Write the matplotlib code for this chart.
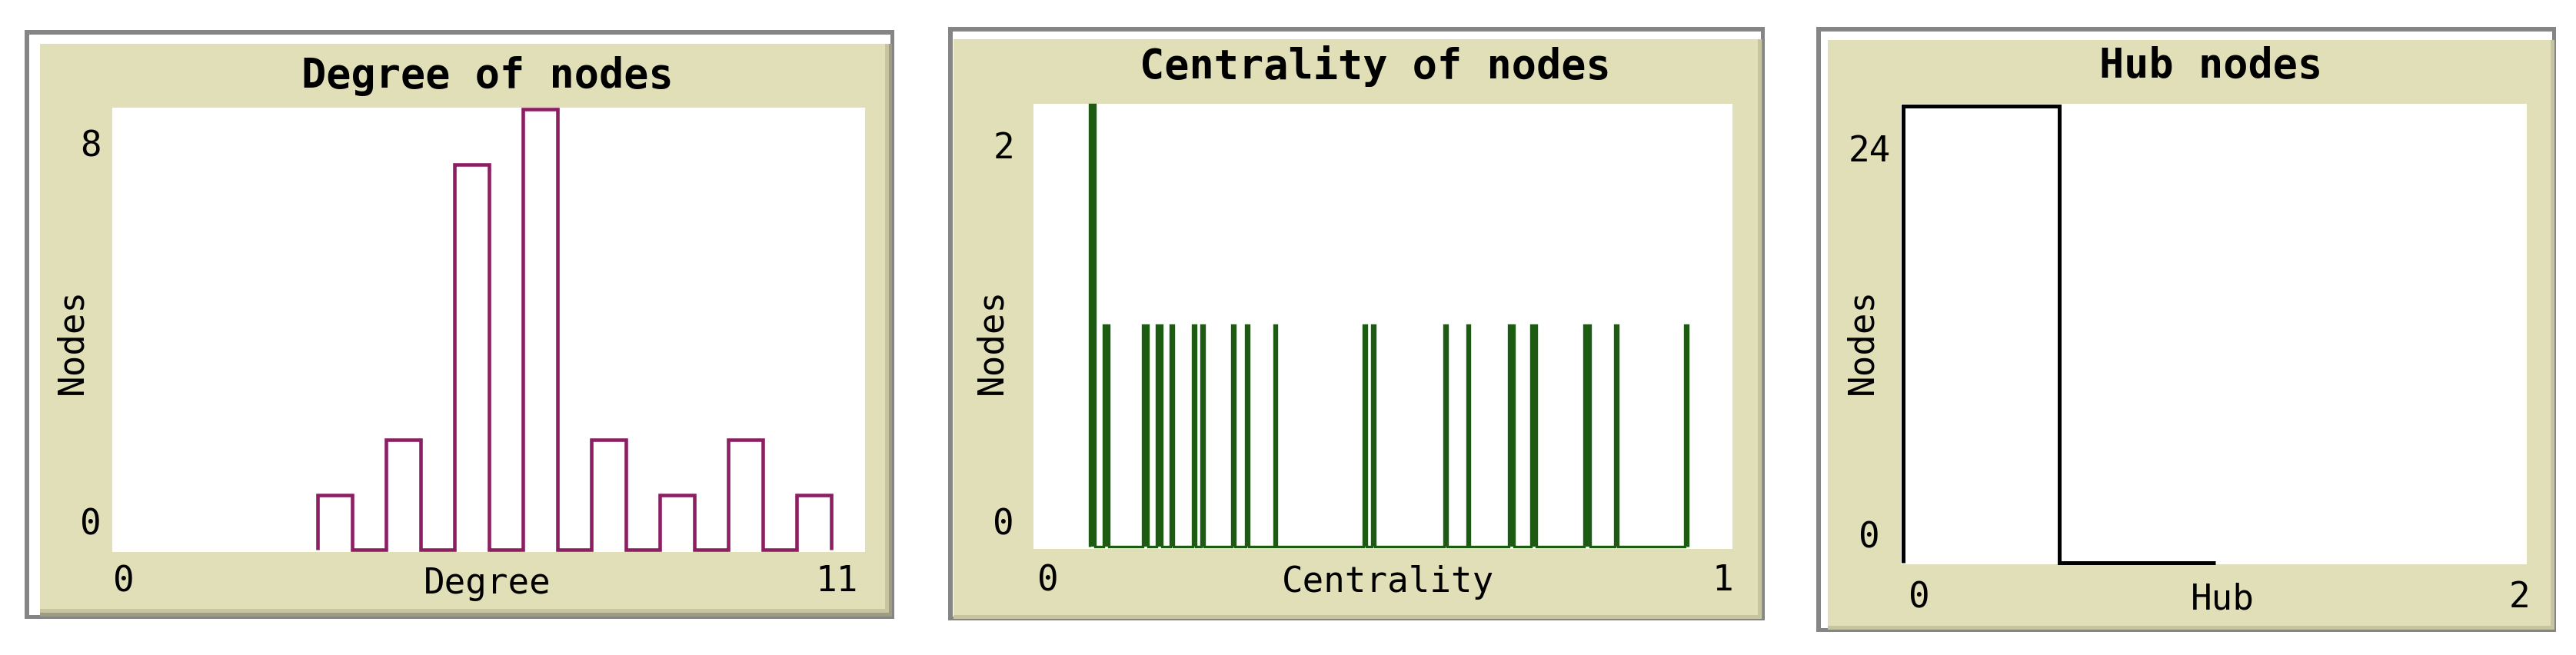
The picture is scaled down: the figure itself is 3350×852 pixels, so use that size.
import numpy as np
import matplotlib.pyplot as plt
from matplotlib.patches import Rectangle

# data
titles = ['Degree of nodes', 'Centrality of nodes', 'Hub nodes']
x_labels = ['Degree', 'Centrality', 'Hub']
x_ranges = [(0, 11), (0, 1), (0, 2)]
y_ranges = [(0, 8), (0, 2), (0, 24)]

degree_values = [3, 4, 5, 6, 7, 8, 9, 10]
degree_counts = [1, 2, 7, 8, 2, 1, 2, 1]

centrality_values = [0.081, 0.082, 0.085, 0.086, 0.101, 0.105, 0.157, 0.161,
                     0.177, 0.181, 0.197, 0.229, 0.241, 0.285, 0.305, 0.345,
                     0.473, 0.485, 0.589, 0.621, 0.681, 0.685, 0.713, 0.717,
                     0.789, 0.793, 0.835, 0.933]

hub_values = [0] * 24

W, H = 3350, 853
BEIGE = '#e0dfb7'
MONO = 'DejaVu Sans Mono'

fig = plt.figure(figsize=(W / 100, H / 100), dpi=100)
fig.patch.set_facecolor('white')


def rect(x0, y0, x1, y1, color):
    fig.patches.append(Rectangle((x0 / W, 1 - y1 / H), (x1 - x0) / W, (y1 - y0) / H,
                                 transform=fig.transFigure, facecolor=color,
                                 edgecolor='none', zorder=-5))


def frame(outer, inner):
    x0, y0, x1, y1 = outer
    bx0, by0, bx1, by1 = inner
    rect(x0, y0, x1, y1, '#858585')
    rect(x0 + 6, y0 + 6, x1 - 5, y1 - 5, 'white')
    rect(bx0, by0, x1 - 3, y1 - 3, '#9e9d84')
    rect(bx0, by0, bx1 + 5, by1 + 5, '#c6c5a0')
    rect(bx0, by0, bx1, by1, BEIGE)


def add_axes(x0, y0, x1, y1):
    ax = fig.add_axes([x0 / W, 1 - y1 / H, (x1 - x0) / W, (y1 - y0) / H])
    ax.set_facecolor('white')
    ax.set_zorder(2)
    for s in ax.spines.values():
        s.set_visible(False)
    ax.set_xticks([])
    ax.set_yticks([])
    return ax


def label(x, y, s, size=33, weight='normal', rot=0):
    fig.text(x / W, 1 - y / H, s, ha='center', va='center', fontsize=size,
             fontweight=weight, family=MONO, rotation=rot, zorder=3)


# panel frames (pixel boxes)
frames = [((32, 40, 1163, 806), (52, 58, 1151, 793)),
          ((1233, 36, 2295, 808), (1240, 52, 2286, 801)),
          ((2362, 36, 3324, 823), (2377, 53, 3317, 815))]
plot_boxes = [(146, 141, 1125, 719), (1344, 136, 2253, 715), (2472, 136, 3286, 735)]

for outer, inner in frames:
    frame(outer, inner)

axes = [add_axes(*b) for b in plot_boxes]

# Degree histogram, interval 0.5
ax = axes[0]
deg_nodes = np.repeat(degree_values, degree_counts)
counts, edges = np.histogram(deg_nodes, bins=np.arange(3, 10.75, 0.5))
ax.stairs(counts, edges, baseline=0, color='#8c1f62', lw=3.3, clip_on=False)
ax.set_xlim(-0.005, 11)
ax.set_ylim(-0.04, 8.03)

# Centrality histogram, narrow interval (bars so thin they look solid)
ax = axes[1]
green = '#1d5a12'
w = 0.004
lo = np.floor(min(centrality_values) / w) * w
hi = np.floor(max(centrality_values) / w) * w + w
counts, edges = np.histogram(centrality_values, bins=np.arange(lo, hi + w / 2, w))
ax.stairs(counts, edges, baseline=0, fill=True, color=green, lw=0, clip_on=False)
ax.stairs(counts, edges, baseline=0, color=green, lw=2.4, clip_on=False)
ax.set_xlim(0, 1)
ax.set_ylim(-0.012, 2.005)

# Hub histogram
ax = axes[2]
counts, edges = np.histogram(hub_values, bins=[0, 0.5, 1.0])
ax.stairs(counts, edges, baseline=0, color='black', lw=3.6, clip_on=False)
ax.set_xlim(-0.008, 2)
ax.set_ylim(-0.08, 24.12)

# texts
title_pos = [(634, 99), (1788, 86), (2875, 86)]
ylab_pos = [94, 1290, 2422]
ytick_x = [118, 1305, 2431]
ytick_y = [(683, 191), (683, 194), (700, 197)]
xtick_y = [757, 756, 778]
xtick_x = [(161, 634, 1088), (1363, 1805, 2240), (2496, 2890, 3276)]

for i in range(3):
    label(*title_pos[i], titles[i], size=38.5, weight='bold')
    label(ylab_pos[i], 444, 'Nodes', rot=90)
    label(ytick_x[i], ytick_y[i][0], str(y_ranges[i][0]))
    label(ytick_x[i], ytick_y[i][1], str(y_ranges[i][1]))
    xa, xm, xb = xtick_x[i]
    label(xa, xtick_y[i], str(x_ranges[i][0]))
    label(xm, xtick_y[i] + 2, x_labels[i])
    label(xb, xtick_y[i], str(x_ranges[i][1]))

fig.savefig('out.png', dpi=100)
